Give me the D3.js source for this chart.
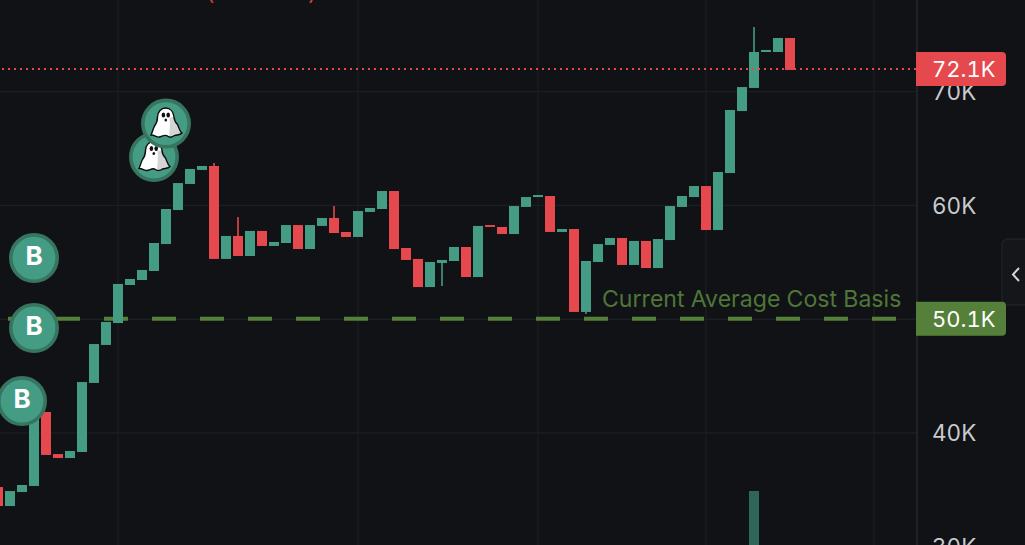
<!DOCTYPE html>
<html><head><meta charset="utf-8">
<script src="https://cdn.jsdelivr.net/npm/d3@7"></script>
<style>html,body{margin:0;padding:0;background:#101216;overflow:hidden}svg{display:block}text{font-family:Inter,sans-serif;font-variant-numeric:tabular-nums}</style>
</head><body><svg id="c" width="1025" height="545"></svg>
<script>
// Candles, in thousands. Index 0 sits just off the left edge of the picture.
const opens  = [35.25,33.58,34.81,35.34,41.85,38.15,37.80,38.33,44.40,47.74,49.67,53.01,53.45,54.24,56.61,59.60,61.89,63.12,63.47,55.30,57.32,55.56,57.76,56.44,56.70,58.28,56.17,58.20,58.90,57.67,57.23,59.43,59.69,61.27,56.26,55.30,52.83,54.94,55.12,56.35,53.71,58.28,58.11,57.49,59.87,60.74,60.83,57.67,57.93,50.64,55.03,56.53,57.14,54.77,56.88,54.50,56.96,59.87,60.74,61.71,57.84,62.85,68.30,70.33,73.49,73.49,74.72];
const closes = [33.58,34.90,35.43,41.85,38.07,37.80,38.42,44.48,47.82,49.76,53.10,53.54,54.33,56.70,59.69,61.97,63.21,63.47,55.30,57.32,55.56,57.76,56.44,56.79,58.28,56.17,58.28,58.90,57.58,57.23,59.51,59.78,61.27,56.17,55.21,52.83,55.03,55.21,56.35,53.71,58.20,58.11,57.49,59.95,60.74,60.92,57.67,57.93,50.64,55.12,56.61,57.14,54.77,56.88,54.50,57.05,59.95,60.83,61.71,57.84,62.94,68.39,70.41,73.49,73.67,74.72,71.91];
const wickIdx  = [18,20,28,37,49,63];
const wickFrom = [63.47,57.32,58.90,54.94,50.64,73.49];
const wickTo   = [63.73,58.99,59.95,52.92,50.46,75.69];
const volumeIdx = [63];
const volumeValues = [54];
const gridTicks = [40,50,60,70];
const yTicks = [30,40,60,70];
const yTickLabels = ["30K","40K","60K","70K"];
const timeGridIdx = [10,30,45,59,73];
const lastLine = 72.0, lastLabel = "72.1K";
const costLine = 50.04, costValue = "50.1K";
const costCaption = "Current Average Cost Basis";
const buyIdx = [3,3,2], buyPrice = [55.38,49.23,42.81];
const ghostIdx = [13,14], ghostPrice = [64.26,67.20];

const svg = d3.select("#c");
const W=1025,H=545,axisX=917;
const bgC="#101216",gridC="#1c1e23",up="#459c84",down="#e5484d",costC="#55803a",txt="#c9cacd",ring="#37755f";
const x = d3.scaleLinear().domain([0,1]).range([-2,10]);
const y = d3.scaleLinear().domain([40,70]).range([433,91.7]);
const vol = d3.scaleLinear().domain([0,54]).range([H,491]);
const bw = 10;
svg.append("rect").attr("width",W).attr("height",H).attr("fill",bgC);

// grid
svg.append("g").selectAll("line").data(gridTicks).join("line")
 .attr("x1",0).attr("x2",axisX).attr("y1",d=>y(d)).attr("y2",d=>y(d)).attr("stroke",gridC).attr("stroke-width",1.3);
svg.append("g").selectAll("line").data(timeGridIdx).join("line")
 .attr("x1",d=>x(d)).attr("x2",d=>x(d)).attr("y1",0).attr("y2",H).attr("stroke",gridC).attr("stroke-width",1.3);
svg.append("line").attr("x1",axisX).attr("x2",axisX).attr("y1",0).attr("y2",H).attr("stroke","#292b30").attr("stroke-width",1.3);

// axis tick labels
svg.append("g").selectAll("text").data(yTicks).join("text")
 .attr("x",932).attr("y",d=>y(d)).attr("dy","0.36em").attr("font-size",22.5).attr("fill",txt)
 .text((d,i)=>yTickLabels[i]);

// clipped red caption fragments at the very top
svg.append("g").selectAll("text").data(["(",")"]).join("text")
 .attr("x",(d,i)=>i?308:206).attr("y",-0.5).attr("font-size",22).attr("fill","#c9403f").text(d=>d);

// volume
svg.append("g").selectAll("rect").data(volumeValues).join("rect")
 .attr("x",(d,i)=>x(volumeIdx[i])-bw/2).attr("width",bw).attr("y",d=>vol(d)).attr("height",d=>H-vol(d)).attr("fill","#2f6659");

// cost basis line (behind candles)
svg.append("line").attr("x1",8).attr("x2",axisX-16).attr("y1",y(costLine)).attr("y2",y(costLine))
 .attr("stroke",costC).attr("stroke-width",4).attr("stroke-dasharray","24 24");
svg.append("text").attr("x",602).attr("y",307).attr("font-size",23.1).attr("fill","#4f7638").text(costCaption);

// candles
svg.append("g").selectAll("rect").data(opens).join("rect")
 .attr("x",(d,i)=>x(i)-bw/2).attr("width",bw)
 .attr("y",(d,i)=>y(Math.max(d,closes[i])))
 .attr("height",(d,i)=>Math.abs(y(d)-y(closes[i])))
 .attr("fill",(d,i)=>closes[i]>=d?up:down);
svg.append("g").selectAll("line").data(wickIdx).join("line")
 .attr("x1",d=>x(d)).attr("x2",d=>x(d))
 .attr("y1",(d,i)=>y(wickFrom[i])).attr("y2",(d,i)=>y(wickTo[i]))
 .attr("stroke-width",1.6)
 .attr("stroke",d=>closes[d]>=opens[d]?up:down);

// last price line
svg.append("line").attr("x1",2).attr("x2",axisX).attr("y1",y(lastLine)).attr("y2",y(lastLine))
 .attr("stroke",down).attr("stroke-width",2).attr("stroke-dasharray","2 4");

// buy markers
const buys = svg.append("g").selectAll("g").data(buyIdx).join("g")
 .attr("transform",(d,i)=>`translate(${x(d)},${y(buyPrice[i])})`);
buys.append("circle").attr("r",23.2).attr("fill",up).attr("stroke",ring).attr("stroke-width",3.6);
buys.append("text").attr("text-anchor","middle").attr("y",6.8).attr("font-size",26).attr("font-weight",700).attr("fill","#fff").text("B");

// ghost markers
const ghostBody="M-0.5,-15.5C4.5,-15.5 7.5,-11.5 8,-6.5C8.2,-2.5 9.5,-1 11.5,1C13,4 13.5,8 16,9.5C14,12 11,11 8.5,12C6,14 3,14 0.5,12C-2,11 -4,13 -7,13.5C-9,14 -11,11.5 -15,11.5C-13.5,8.5 -13,5 -11.5,2.5C-9.5,0 -8.5,-2 -8.5,-6.5C-8.5,-11.5 -5,-15.5 -0.5,-15.5Z";
const ghostShade="M3.5,-6C4.5,0 3.5,7 3,13.2C5,14 7,13 8.5,12C11,11 14,12 16,9.5C13.5,8 13,4 11.5,1C9.5,-1 8.2,-2.5 8,-6.5Z";
const ghosts = svg.append("g").selectAll("g").data(ghostIdx).join("g")
 .attr("transform",(d,i)=>`translate(${x(d)},${y(ghostPrice[i])})`);
ghosts.append("circle").attr("r",23.2).attr("fill",up).attr("stroke",ring).attr("stroke-width",3.6);
ghosts.append("path").attr("d",ghostBody).attr("fill","#fff");
ghosts.append("path").attr("d",ghostShade).attr("fill","#d5d5d5");
ghosts.append("path").attr("d",ghostBody).attr("fill","none").attr("stroke","#0c0c0c").attr("stroke-width",1.4);
ghosts.selectAll("ellipse").data([[-2.6,-8.6,1.8,2.5],[2.2,-8.6,1.8,2.5],[-0.2,-3.6,1.3,1.5]]).join("ellipse")
 .attr("cx",d=>d[0]).attr("cy",d=>d[1]).attr("rx",d=>d[2]).attr("ry",d=>d[3]).attr("fill","#111");

// collapse handle
svg.append("rect").attr("x",1002).attr("y",239).attr("width",40).attr("height",66).attr("rx",6)
 .attr("fill","#15161a").attr("stroke","#202226").attr("stroke-width",1.3);
svg.append("path").attr("d",d3.line()([[1019,268],[1013,274.5],[1019,281]])).attr("fill","none").attr("stroke","#d4d4d6").attr("stroke-width",2);

// price tags
function tag(value,label,fill){
  const cy=y(value),l=916,r=1006,rad=4;
  svg.append("path").attr("fill",fill)
   .attr("d",`M${l},${cy-17}H${r-rad}Q${r},${cy-17} ${r},${cy-17+rad}V${cy+17-rad}Q${r},${cy+17} ${r-rad},${cy+17}H${l}Z`);
  svg.append("text").attr("x",932).attr("y",cy).attr("dy","0.36em").attr("font-size",22).attr("fill","#fff").text(label);
}
tag(lastLine,lastLabel,down);
tag(costLine,costValue,costC);
</script>
</body></html>
